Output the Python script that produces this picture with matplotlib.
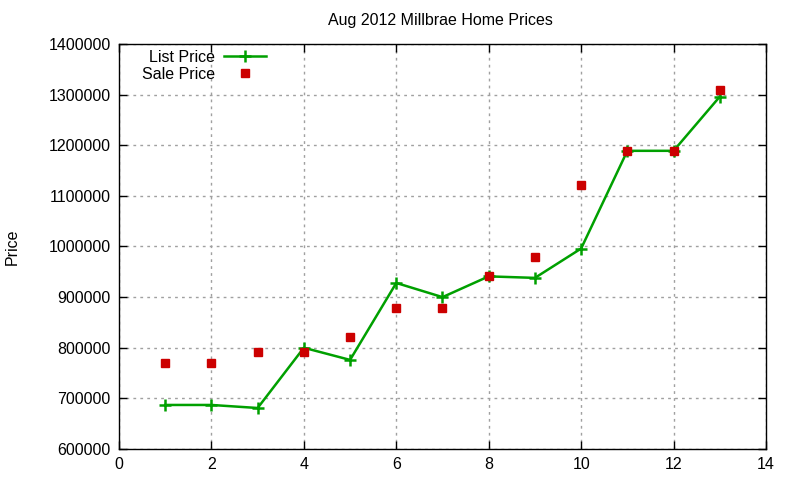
import matplotlib as mpl
import matplotlib.pyplot as plt

mpl.rcParams.update({'font.family': ['Liberation Sans', 'DejaVu Sans'],
                     'font.size': 11.5})

# Data
idx = [1, 2, 3, 4, 5, 6, 7, 8, 9, 10, 11, 12, 13]
list_price = [687000, 687000, 681000, 800000, 776000, 928000, 900000,
              941000, 938000, 996000, 1189000, 1189000, 1296000]
sale_price = [769000, 769000, 791000, 791000, 821000, 879000, 879000,
              941000, 980000, 1121000, 1189000, 1189000, 1310000]
xticks = [0, 2, 4, 6, 8, 10, 12, 14]
yticks = [600000, 700000, 800000, 900000, 1000000, 1100000, 1200000,
          1300000, 1400000]

green = '#00a000'
red = '#cc0000'

fig = plt.figure(figsize=(8, 4.8), dpi=100)
ax = fig.add_axes([119 / 800, 31 / 480, 647 / 800, 405 / 480])

ax.plot(idx, list_price, color=green, lw=1.8, marker='+', ms=9, mew=1.8,
        label='List Price')
ax.plot(idx, sale_price, ls='none', marker='s', ms=6.3, color=red,
        label='Sale Price')

ax.set_xlim(0, 14)
ax.set_ylim(600000, 1400000)
ax.set_xticks(xticks)
ax.set_yticks(yticks)
ax.yaxis.set_major_formatter(mpl.ticker.FormatStrFormatter('%d'))
ax.tick_params(direction='in', length=6, width=1, top=True, right=True,
               labelsize=11.5, pad=6)
for s in ax.spines.values():
    s.set_linewidth(1)
ax.grid(True, color='#a0a0a0', ls=(0, (2, 3)), lw=1)
ax.set_axisbelow(True)

fig.text(440 / 800, 1 - 20 / 480, 'Aug 2012 Millbrae Home Prices',
         ha='center', va='center', fontsize=11.5)
fig.text(12 / 800, 1 - 247 / 480, 'Price', rotation=90,
         ha='center', va='center', fontsize=11.5)

ax.legend(loc='upper left', bbox_to_anchor=(0.030, 0.993), frameon=False,
          markerfirst=False, handlelength=2.6, handletextpad=0.6,
          labelspacing=0.1, borderaxespad=0.1, borderpad=0.1,
          fontsize=11.5)

fig.savefig('out.png', dpi=100)
